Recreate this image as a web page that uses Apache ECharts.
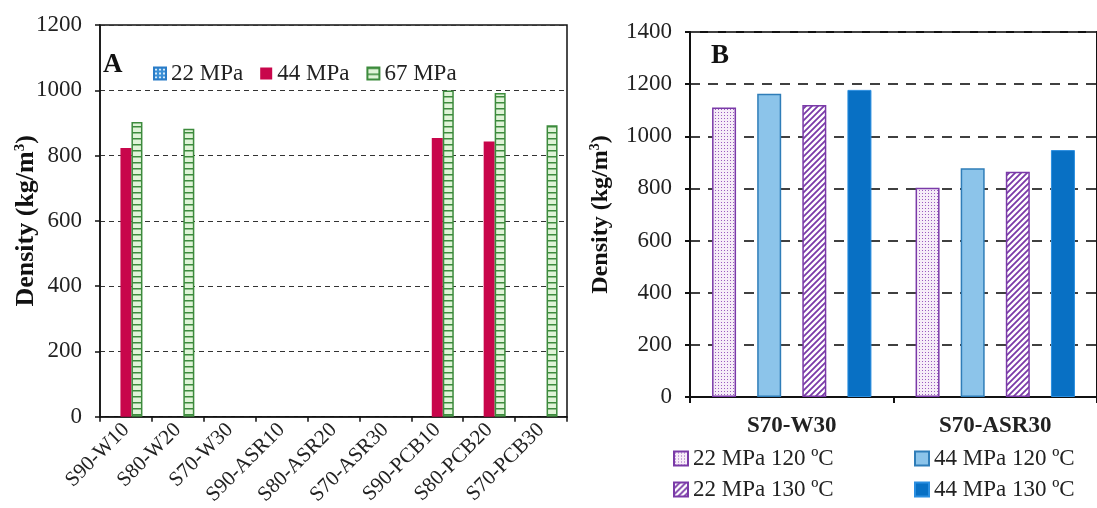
<!DOCTYPE html>
<html>
<head>
<meta charset="utf-8">
<script src="https://cdn.jsdelivr.net/npm/echarts@6/dist/echarts.min.js"></script>
<style>
html, body { margin: 0; padding: 0; background: #fff; }
#main { width: 1097px; height: 508px; }
</style>
</head>
<body>
<div id="main"></div>
<script>
// panel A
var catsA = ['S90-W10', 'S80-W20', 'S70-W30', 'S90-ASR10', 'S80-ASR20', 'S70-ASR30', 'S90-PCB10', 'S80-PCB20', 'S70-PCB30'];
var a22 = [null, null, null, null, null, null, null, null, null];
var a44 = [823, null, null, null, null, null, 854, 843, null];
var a67 = [903, 882, null, null, null, null, 999, 992, 893];
var namesA = ['22 MPa', '44 MPa', '67 MPa'];

// panel B
var catsB = ['S70-W30', 'S70-ASR30'];
var b22_120 = [1110, 803];
var b44_120 = [1163, 877];
var b22_130 = [1120, 864];
var b44_130 = [1178, 947];
var namesB = ['22 MPa 120 ºC', '44 MPa 120 ºC', '22 MPa 130 ºC', '44 MPa 130 ºC'];

var serif = 'Liberation Serif';

function pattern(w, h, draw) {
	var c = document.createElement('canvas');
	c.width = w; c.height = h;
	var ctx = c.getContext('2d');
	draw(ctx, w, h);
	return { image: c, repeat: 'repeat' };
}

var greenLadder = pattern(8, 6, function (ctx, w, h) {
	ctx.fillStyle = '#e0f4d8'; ctx.fillRect(0, 0, w, h);
	ctx.fillStyle = '#3d8b3d'; ctx.fillRect(0, 0, w, 1.5);
});
var blueCheck = pattern(4, 4, function (ctx, w, h) {
	ctx.fillStyle = '#3b8fd6'; ctx.fillRect(0, 0, w, h);
	ctx.fillStyle = '#d8ecfa'; ctx.fillRect(1, 1, 2, 2);
});
var purpleDots = pattern(3, 3, function (ctx, w, h) {
	ctx.fillStyle = '#f6ecf8'; ctx.fillRect(0, 0, w, h);
	ctx.fillStyle = '#9a5bbf'; ctx.fillRect(1, 1, 1, 1);
});
var purpleHatch = pattern(6, 6, function (ctx, w, h) {
	ctx.fillStyle = '#ffffff'; ctx.fillRect(0, 0, w, h);
	ctx.strokeStyle = '#7a3aa8'; ctx.lineWidth = 1.8;
	ctx.beginPath();
	ctx.moveTo(0, h); ctx.lineTo(w, 0);
	ctx.moveTo(-1, 1); ctx.lineTo(1, -1);
	ctx.moveTo(w - 1, h + 1); ctx.lineTo(w + 1, h - 1);
	ctx.stroke();
});

function plain(v) { return String(v); }

var myChart = echarts.init(document.getElementById('main'));

var option = {
	animation: false,
	backgroundColor: '#fff',
	textStyle: { fontFamily: serif },
	title: [
		{ text: 'A', left: 101, top: 50, padding: 2, textStyle: { fontFamily: serif, fontWeight: 'bold', fontSize: 27, color: '#111' } },
		{ text: 'B', left: 709, top: 41, padding: 2, textStyle: { fontFamily: serif, fontWeight: 'bold', fontSize: 27, color: '#111' } }
	],
	legend: [
		{
			data: namesA, left: 148, top: 57, icon: 'rect', itemWidth: 12, itemHeight: 12, itemGap: 17,
			textStyle: { fontFamily: serif, fontSize: 23, color: '#222' }
		},
		{
			data: [namesB[0], namesB[2]], orient: 'vertical', left: 673, top: 447, padding: 0,
			icon: 'rect', itemWidth: 14, itemHeight: 14, itemGap: 8,
			textStyle: { fontFamily: serif, fontSize: 23, color: '#222' }
		},
		{
			data: [namesB[1], namesB[3]], orient: 'vertical', left: 914, top: 447, padding: 0,
			icon: 'rect', itemWidth: 14, itemHeight: 14, itemGap: 8,
			textStyle: { fontFamily: serif, fontSize: 23, color: '#222' }
		}
	],
	grid: [
		{ left: 100, top: 25, right: 530, bottom: 90, show: true, borderColor: '#111', borderWidth: 1.5, backgroundColor: 'transparent' },
		{ left: 690, top: 32, right: -8, bottom: 111, show: true, borderColor: '#111', borderWidth: 2, backgroundColor: 'transparent' }
	],
	xAxis: [
		{
			type: 'category', gridIndex: 0, data: catsA,
			axisLine: { lineStyle: { color: '#111', width: 1.5 } },
			axisTick: { show: true, length: 5, lineStyle: { color: '#111', width: 1.5 } },
			axisLabel: { rotate: 45, margin: 10, fontFamily: serif, fontSize: 21, color: '#222' }
		},
		{
			type: 'category', gridIndex: 1, data: catsB,
			axisLine: { lineStyle: { color: '#111', width: 2 } },
			axisTick: { show: true, length: 6, lineStyle: { color: '#111', width: 2 } },
			axisLabel: { margin: 18, fontFamily: serif, fontSize: 23, fontWeight: 'bold', color: '#222' }
		}
	],
	yAxis: [
		{
			type: 'value', gridIndex: 0, min: 0, max: 1200, interval: 200,
			name: 'Density (kg/m{sup|3})', nameLocation: 'middle', nameGap: 60, nameMoveOverlap: false,
			nameTextStyle: {
				fontFamily: serif, fontSize: 26, fontWeight: 'bold', color: '#111',
				rich: { sup: { fontFamily: serif, fontSize: 15, fontWeight: 'bold', color: '#111', padding: [0, 0, 12, 0] } }
			},
			axisLine: { show: true, lineStyle: { color: '#111', width: 1.5 } },
			axisTick: { show: true, length: 5, lineStyle: { color: '#111', width: 1.5 } },
			axisLabel: { margin: 18, fontFamily: serif, fontSize: 23, color: '#222', formatter: plain },
			splitLine: { lineStyle: { color: '#333', width: 1, type: [5, 4] } }
		},
		{
			type: 'value', gridIndex: 1, min: 0, max: 1400, interval: 200,
			name: 'Density (kg/m{sup|3})', nameLocation: 'middle', nameGap: 77, nameMoveOverlap: false,
			nameTextStyle: {
				fontFamily: serif, fontSize: 24, fontWeight: 'bold', color: '#111',
				rich: { sup: { fontFamily: serif, fontSize: 14, fontWeight: 'bold', color: '#111', padding: [0, 0, 11, 0] } }
			},
			axisLine: { show: true, lineStyle: { color: '#111', width: 2 } },
			axisTick: { show: true, length: 5, lineStyle: { color: '#111', width: 2 } },
			axisLabel: { margin: 18, fontFamily: serif, fontSize: 23, color: '#222', formatter: plain },
			splitLine: { lineStyle: { color: '#404040', width: 2, type: [10, 8] } }
		}
	],
	series: [
		{
			name: namesA[0], type: 'bar', xAxisIndex: 0, yAxisIndex: 0, data: a22,
			barWidth: 11, barGap: '0%',
			itemStyle: { color: blueCheck, borderColor: '#2a7cc7', borderWidth: 1 }
		},
		{
			name: namesA[1], type: 'bar', xAxisIndex: 0, yAxisIndex: 0, data: a44,
			barWidth: 11, barGap: '0%',
			itemStyle: { color: '#c8064b' }
		},
		{
			name: namesA[2], type: 'bar', xAxisIndex: 0, yAxisIndex: 0, data: a67,
			barWidth: 11, barGap: '0%',
			itemStyle: { color: greenLadder, borderColor: '#3d8b3d', borderWidth: 1.5 }
		},
		{
			name: namesB[0], type: 'bar', xAxisIndex: 1, yAxisIndex: 1, data: b22_120,
			barWidth: 24, barGap: '88%',
			itemStyle: { color: purpleDots, borderColor: '#7a3aa8', borderWidth: 1.5 }
		},
		{
			name: namesB[1], type: 'bar', xAxisIndex: 1, yAxisIndex: 1, data: b44_120,
			barWidth: 24, barGap: '88%',
			itemStyle: { color: '#8cc4ea', borderColor: '#2f7db8', borderWidth: 1.5 }
		},
		{
			name: namesB[2], type: 'bar', xAxisIndex: 1, yAxisIndex: 1, data: b22_130,
			barWidth: 24, barGap: '88%',
			itemStyle: { color: purpleHatch, borderColor: '#7a3aa8', borderWidth: 1.5 }
		},
		{
			name: namesB[3], type: 'bar', xAxisIndex: 1, yAxisIndex: 1, data: b44_130,
			barWidth: 24, barGap: '88%',
			itemStyle: { color: '#0870c4', borderColor: '#2a8ee0', borderWidth: 1 }
		}
	]
};

myChart.setOption(option);
</script>
</body>
</html>
